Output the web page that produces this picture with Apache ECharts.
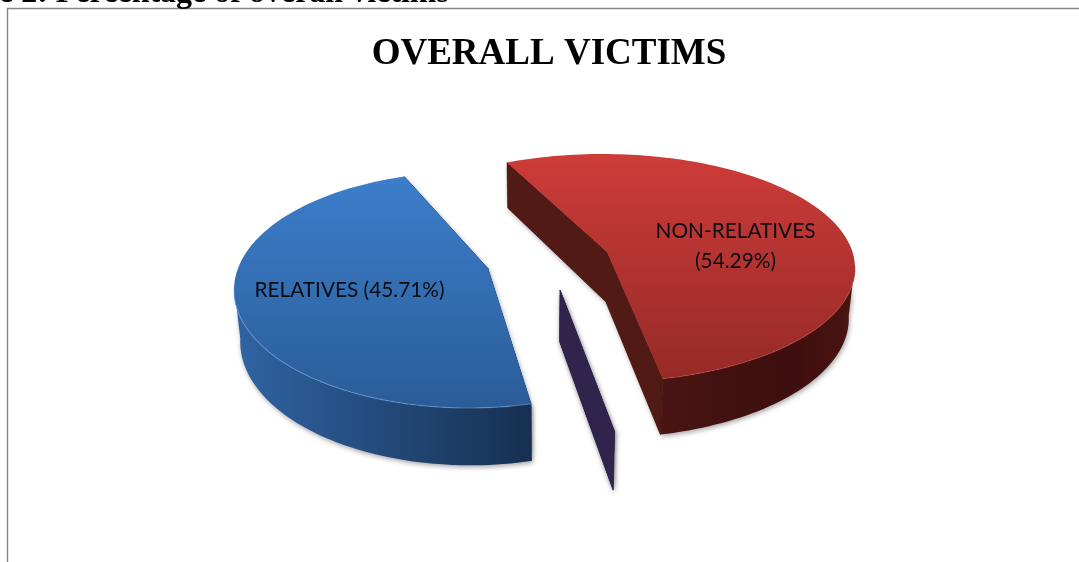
<!DOCTYPE html>
<html>
<head>
<meta charset="utf-8">
<style>html,body{margin:0;padding:0;background:#fff}#chart{width:1079px;height:562px}</style>
<script src="https://cdn.jsdelivr.net/npm/echarts@6/dist/echarts.min.js"></script>
</head>
<body>
<div id="chart"></div>
<script>
// Shares of overall victims, in the order the pie sweeps clockwise.
const categories = ['NON-RELATIVES', 'OTHER', 'RELATIVES'];
const shares = [54.29, 0, 45.71];
const sliceLabels = [['NON-RELATIVES', '(54.29%)'], [], ['RELATIVES (45.71%)']];
const chartTitle = 'OVERALL VICTIMS';
const captionText = 'e 2: Percentage of overall victims';

// Where the pie starts sweeping, in degrees clockwise from the +x axis.
const sweepStart = -116.5;

// Projected shape of each exploded slice: ellipse of the rim, image of the pie
// centre under perspective, a small per-slice twist, and the face colours.
const sliceViews = [
  { cx: 602.5, cy: 268, rx: 252.5, ry: 114, apexX: 607, apexY: 252, twist: 0,
    face: ['#cd3c39', '#962a27'], wall: ['#4a1512', '#421110', '#3e0f0e', '#4a1412'],
    radial: '#521a15', rim: 'rgba(190,70,65,0.4)', labelX: 735.5, labelY: 246 },
  { cx: 556, cy: 315, rx: 250, ry: 120, apexX: 560, apexY: 290, twist: 0.9,
    face: ['#2e2148', '#2e2148'], wall: ['#2e2148', '#2e2148'],
    radial: '#30234c', rim: 'rgba(0,0,0,0)', labelX: 0, labelY: 0 },
  { cx: 469, cy: 290, rx: 235, ry: 118, apexX: 488, apexY: 268.5, twist: 2.5,
    face: ['#3c7ecb', '#2a5c98'], wall: ['#2f64a3', '#234a7b', '#172f50'],
    radial: '#1b3a60', rim: 'rgba(120,170,230,0.45)', labelX: 349.5, labelY: 290 }
];

// Extrusion of the pie: lower rim sits slightly closer to the vanishing axis.
const vanishX = 545;
const shrink = 0.98;
const depthAt = y => 45.5 + 0.048 * (y - 162);
const dropPoint = p => [vanishX + (p[0] - vanishX) * shrink, p[1] + depthAt(p[1])];

// Maps a true pie angle to a point on the perspective rim: a disc automorphism
// that carries the pie centre onto the projected apex.
function rimPoint(view, deg) {
  const ax = (view.apexX - view.cx) / view.rx;
  const ay = (view.apexY - view.cy) / view.ry;
  const k = 1 + Math.sqrt(1 - ax * ax - ay * ay);
  const px = ax / k, py = ay / k;
  const t = deg * Math.PI / 180;
  const zx = Math.cos(t), zy = Math.sin(t);
  const nx = zx + px, ny = zy + py;
  const dx = 1 + px * zx + py * zy, dy = px * zy - py * zx;
  const m = dx * dx + dy * dy;
  const wx = (nx * dx + ny * dy) / m, wy = (ny * dx - nx * dy) / m;
  return [view.cx + view.rx * wx, view.cy + view.ry * wy];
}

function gradient(colors, horizontal) {
  const stops = colors.map((color, i) => ({ offset: i / (colors.length - 1), color }));
  return new echarts.graphic.LinearGradient(0, 0, horizontal ? 1 : 0, horizontal ? 0 : 1, stops);
}

const SHADOW = { shadowBlur: 5, shadowColor: 'rgba(0,0,0,0.35)', shadowOffsetX: 1, shadowOffsetY: 2 };

function renderSlice(params, api) {
  const i = params.dataIndex;
  const view = sliceViews[i];
  const before = shares.slice(0, i).reduce((a, b) => a + b, 0);
  const start = sweepStart + view.twist + before * 3.6;
  const span = api.value(0) * 3.6;

  const arc = [];
  const steps = Math.max(1, Math.round(span / 1.5));
  for (let s = 0; s <= steps; s++) arc.push(rimPoint(view, start + span * s / steps));
  const apex = [view.apexX, view.apexY];
  const children = [];
  const cuts = [[apex, arc[0]], [apex, arc[arc.length - 1]]];
  const cutQuad = ([a, b]) => [a, b, dropPoint(b), dropPoint(a)];

  // soft ground shadow first, then the two straight cut faces over it
  cuts.forEach(cut => children.push({
    type: 'polygon',
    shape: { points: cutQuad(cut) },
    style: Object.assign({ fill: view.radial }, SHADOW)
  }));
  cuts.forEach(cut => children.push({
    type: 'polygon',
    shape: { points: cutQuad(cut) },
    style: { fill: view.radial, stroke: view.radial, lineWidth: 0.5 }
  }));

  // curved outer wall, front half only
  const front = arc.filter(p => p[1] >= view.cy - 4);
  if (front.length > 1) {
    children.push({
      type: 'polygon',
      shape: { points: front.concat(front.map(dropPoint).reverse()) },
      style: Object.assign({ fill: gradient(view.wall, true) }, SHADOW)
    });
  }

  // top face
  if (span > 0) {
    children.push({
      type: 'polygon',
      shape: { points: [apex].concat(arc) },
      style: { fill: gradient(view.face, false) }
    });
    children.push({
      type: 'polyline',
      shape: { points: front },
      style: { fill: 'none', stroke: view.rim, lineWidth: 1.2 }
    });
  } else {
    children.push({
      type: 'polyline',
      shape: { points: [apex, arc[0]] },
      style: { fill: 'none', stroke: view.radial, lineWidth: 0.8 }
    });
  }

  // slice label, stating the same value the sweep was drawn from
  if (sliceLabels[i].length) {
    children.push({
      type: 'text',
      style: {
        text: sliceLabels[i].join('\n'),
        x: view.labelX, y: view.labelY,
        align: 'center', verticalAlign: 'middle',
        fontFamily: 'Lato', fontSize: 20.8, lineHeight: 30, fill: '#0c0c14'
      }
    });
  }
  return { type: 'group', children };
}

const chart = echarts.init(document.getElementById('chart'), null, { renderer: 'canvas' });
chart.setOption({
  animation: false,
  backgroundColor: '#ffffff',
  title: {
    text: chartTitle,
    left: 544, top: 31, textAlign: 'center',
    textStyle: { fontFamily: 'Liberation Serif', fontWeight: 'bold', fontSize: 37, color: '#000' }
  },
  graphic: [
    { type: 'polyline', silent: true, z: 0,
      shape: { points: [[7.5, 562], [7.5, 8.5], [1079, 8.5]] },
      style: { fill: 'none', stroke: '#868686', lineWidth: 1.4 } },
    { type: 'text', silent: true, x: -1, y: -22.5,
      style: { text: captionText, fontFamily: 'Liberation Serif', fontWeight: 'bold', fontSize: 32, fill: '#000' } }
  ],
  series: [{
    type: 'custom',
    coordinateSystem: 'none',
    name: chartTitle,
    data: shares.map((v, i) => ({ name: categories[i], value: [v] })),
    renderItem: renderSlice
  }]
});
</script>
</body>
</html>
